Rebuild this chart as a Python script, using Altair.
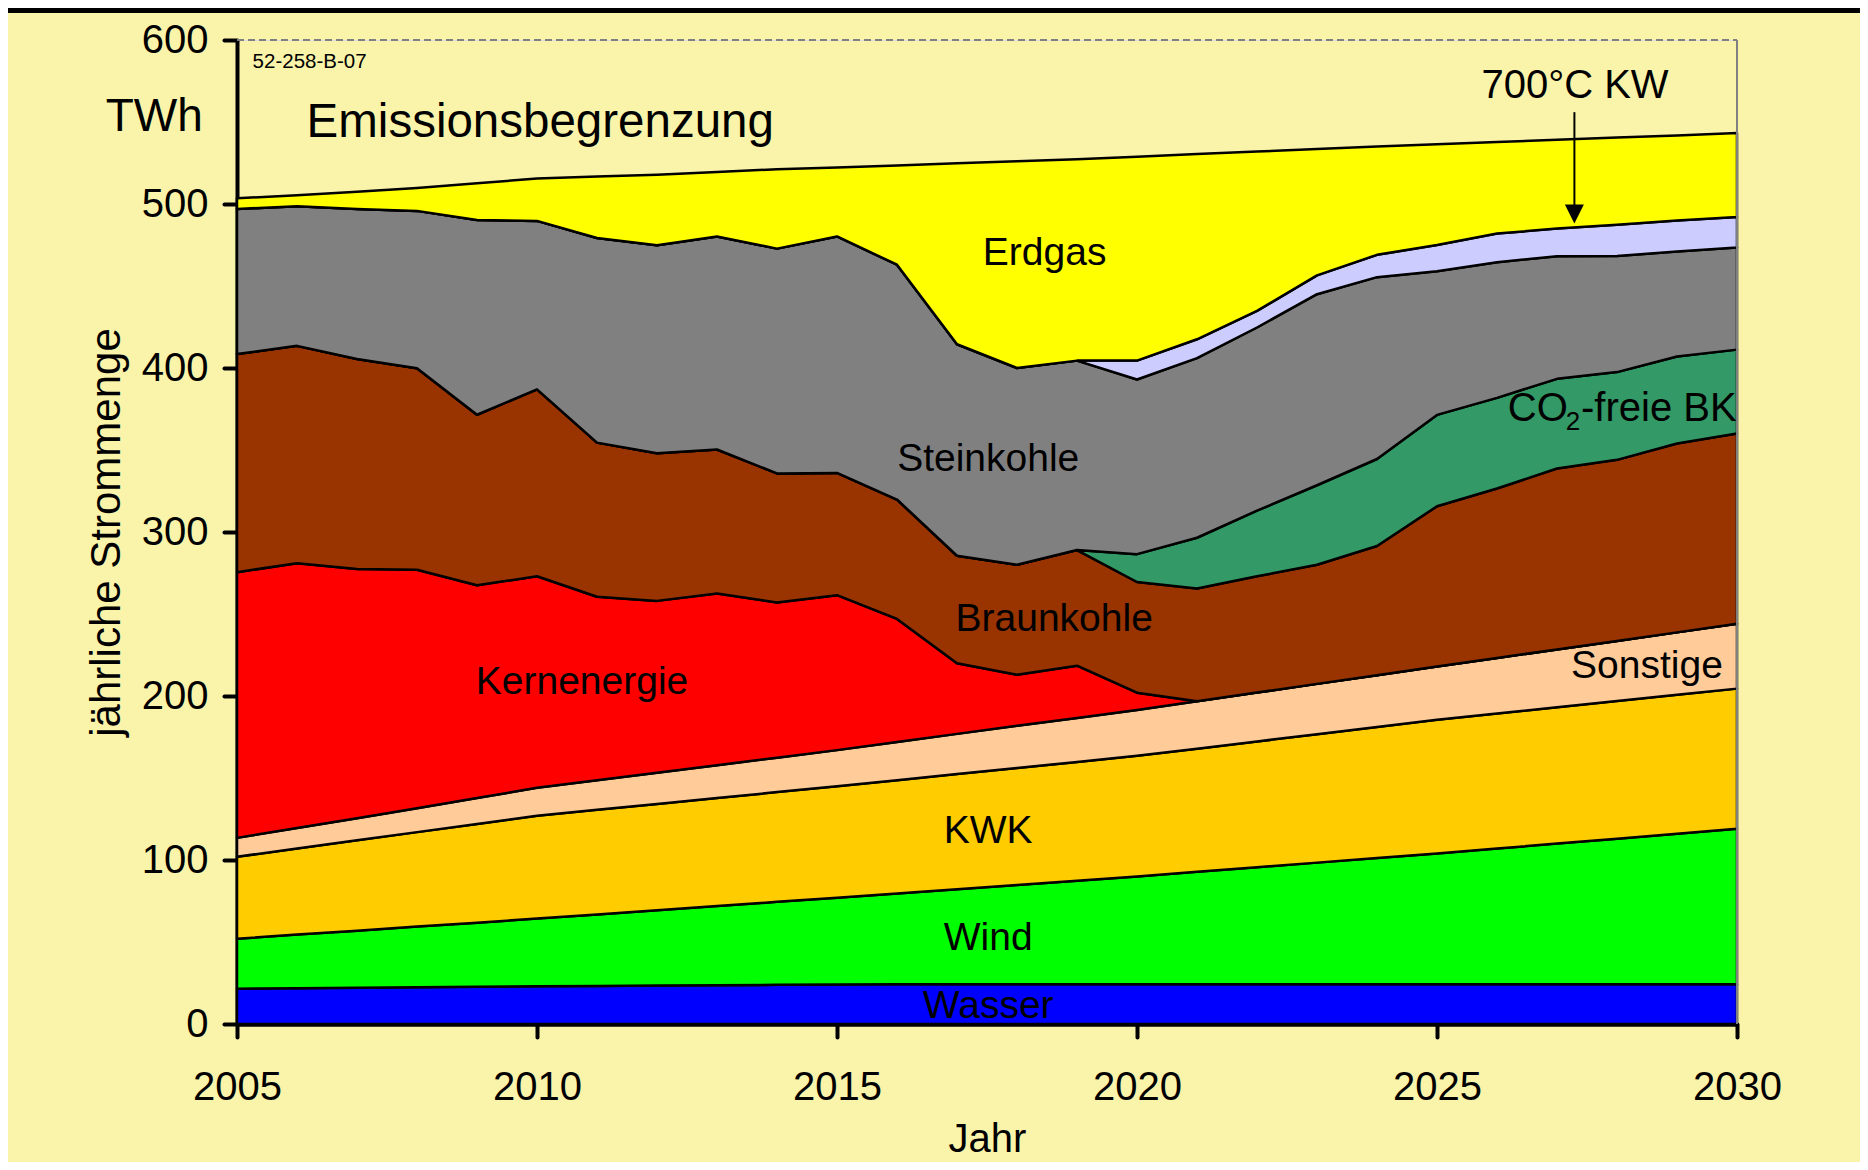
import altair as alt
import pandas as pd

# ---------------- data (TWh per year, per source) ----------------
years = list(range(2005, 2031))

series = ["Wasser", "Wind", "KWK", "Sonstige", "Kernenergie", "Braunkohle",
          "CO2-freie BK", "Steinkohle", "700°C KW", "Erdgas"]
colors = ["#0000FF", "#00FF00", "#FFCC00", "#FFCC99", "#FF0000", "#993300",
          "#339966", "#808080", "#CCCCFF", "#FFFF00"]

wasser = [21.5, 21.8, 22.1, 22.4, 22.7, 23.0, 23.2, 23.4, 23.7, 23.9, 24.1, 24.2, 24.2,
          24.2, 24.2, 24.2, 24.2, 24.2, 24.2, 24.2, 24.2, 24.2, 24.2, 24.2, 24.2, 24.2]
wind = [30.5, 32.7, 34.8, 37.0, 39.1, 41.3, 43.6, 46.0, 48.2, 50.6, 52.9, 55.4, 58.0,
        60.6, 63.2, 65.8, 68.6, 71.4, 74.2, 77.0, 79.8, 82.8, 85.8, 88.8, 91.8, 94.8]
kwk = [50.0, 52.5, 55.1, 57.6, 60.2, 62.7, 63.8, 64.8, 65.9, 66.9, 68.0, 69.1, 70.2,
       71.3, 72.4, 73.5, 75.1, 76.7, 78.3, 79.9, 81.5, 82.3, 83.1, 83.9, 84.7, 85.5]
sonstige = [11.5, 12.5, 13.5, 14.6, 15.8, 17.0, 18.0, 19.0, 20.0, 21.0, 22.0, 23.3, 24.5,
            25.7, 26.8, 28.0, 28.9, 29.8, 30.7, 31.6, 32.5, 33.9, 35.3, 36.7, 38.1, 39.5]
kernenergie = [162.0, 161.5, 152.0, 145.4, 129.7, 129.0, 111.9, 104.8, 104.7, 94.6, 94.5,
               75.0, 43.1, 31.2, 31.9, 10.5, 0, 0, 0, 0, 0, 0, 0, 0, 0, 0]
braunkohle = [133.0, 132.5, 128.0, 122.8, 104.0, 114.0, 94.0, 90.0, 87.8, 78.7, 74.5, 72.8,
              65.5, 67.0, 70.5, 67.5, 68.7, 70.9, 72.6, 78.8, 97.7, 103.3, 110.3, 110.4,
              115.2, 116.0]
co2_frei = [0, 0, 0, 0, 0, 0, 0, 0, 0, 0, 0, 0, 0, 0, 0,
            17.0, 31.0, 40.0, 48.5, 53.0, 55.7, 55.3, 54.7, 53.5, 53.0, 51.2]
steinkohle = [88.5, 85.1, 91.5, 96.0, 118.7, 102.7, 124.8, 126.8, 129.9, 137.1, 144.2,
              143.2, 129.0, 120.0, 115.5, 106.5, 109.5, 111.7, 116.5, 110.9, 87.6, 82.7,
              74.8, 70.8, 64.0, 62.3]
kw700 = [0, 0, 0, 0, 0, 0, 0, 0, 0, 0, 0, 0, 0, 0, 0,
         11.5, 11.5, 10.1, 11.5, 13.6, 16.0, 17.5, 16.8, 19.0, 19.0, 18.5]
erdgas = [6.5, 6.7, 10.5, 14.0, 22.4, 25.9, 37.5, 43.1, 39.3, 48.4, 42.1, 60.5, 110.3,
          126.0, 122.8, 124.3, 113.0, 97.2, 77.0, 66.0, 61.5, 55.8, 54.2, 53.2, 51.8, 51.3]

values = [wasser, wind, kwk, sonstige, kernenergie, braunkohle, co2_frei,
          steinkohle, kw700, erdgas]

x_ticks = [2005, 2010, 2015, 2020, 2025, 2030]
y_ticks = [0, 100, 200, 300, 400, 500, 600]

rows = []
for i, (name, vals) in enumerate(zip(series, values)):
    for yr, v in zip(years, vals):
        rows.append({"year": yr, "value": v, "series": name, "idx": i})
df = pd.DataFrame(rows)

FONT = "Liberation Sans"
x_scale = alt.Scale(domain=[2005, 2030], nice=False, zero=False)
y_scale = alt.Scale(domain=[0, 600], nice=False, zero=True)

area = alt.Chart(df).mark_area(
    stroke="black", strokeWidth=2.5, strokeJoin="round", fillOpacity=1, interpolate="linear"
).encode(
    x=alt.X("year:Q", scale=x_scale,
            axis=alt.Axis(values=x_ticks, format="d", title="Jahr", grid=False,
                          labelFontSize=40, labelPadding=30, labelFlush=False,
                          labelColor="black", labelFont=FONT,
                          tickSize=13, tickWidth=4, tickColor="black", tickCap="round",
                          domainColor="black", domainWidth=4.5,
                          titleFontSize=40, titleFontWeight="normal", titleFont=FONT,
                          titleColor="black", titleX=750, titleY=127,
                          titleBaseline="alphabetic", titleAlign="center")),
    y=alt.Y("value:Q", stack="zero", scale=y_scale,
            axis=alt.Axis(values=y_ticks, title="jährliche Strommenge", grid=False,
                          labelFontSize=40, labelPadding=16, labelFlush=False,
                          labelColor="black", labelFont=FONT,
                          tickSize=13, tickWidth=4, tickColor="black", tickCap="round",
                          domainColor="black", domainWidth=4,
                          titleFontSize=42, titleFontWeight="normal", titleFont=FONT,
                          titleColor="black", titleAngle=270, titleX=-118, titleY=492,
                          titleBaseline="alphabetic", titleAlign="center")),
    fill=alt.Fill("series:N", scale=alt.Scale(domain=series, range=colors), legend=None),
    order=alt.Order("idx:Q", sort="ascending"),
)

# plot-area frame: dashed top, thin right border
frame_top = alt.Chart(pd.DataFrame({"x": [2005], "x2": [2030], "y": [600]})).mark_rule(
    color="#808080", strokeWidth=2, strokeDash=[7, 4]
).encode(x=alt.X("x:Q", scale=x_scale), x2="x2:Q", y=alt.Y("y:Q", scale=y_scale))
frame_right = alt.Chart(pd.DataFrame({"x": [2030], "y": [0], "y2": [600]})).mark_rule(
    color="#808080", strokeWidth=2
).encode(x=alt.X("x:Q", scale=x_scale), y=alt.Y("y:Q", scale=y_scale), y2="y2:Q")

# top black bar of the slide
top_bar = alt.Chart(pd.DataFrame({"a": [0]})).mark_rule(color="black", strokeWidth=5).encode(
    x=alt.value(-229), x2=alt.value(1623), y=alt.value(-29.5)
)

# area labels
lab_text = ["Erdgas", "Steinkohle", "Braunkohle", "Kernenergie", "Sonstige",
            "KWK", "Wind", "Wasser"]
lab_x = [2018.46, 2017.52, 2018.62, 2010.75, 2028.5, 2017.52, 2017.52, 2017.52]
lab_y = [470.0, 344.8, 247.0, 208.5, 218.0, 117.7, 52.3, 11.0]
labels = alt.Chart(pd.DataFrame({"t": lab_text, "x": lab_x, "y": lab_y})).mark_text(
    fontSize=39, font=FONT, color="black", align="center", baseline="middle"
).encode(x=alt.X("x:Q", scale=x_scale), y=alt.Y("y:Q", scale=y_scale), text="t:N")

def txt(t, x, y, size, align="left", baseline="alphabetic"):
    return alt.Chart(pd.DataFrame({"t": [t], "x": [x], "y": [y]})).mark_text(
        fontSize=size, font=FONT, color="black", align=align, baseline=baseline
    ).encode(x=alt.X("x:Q", scale=x_scale), y=alt.Y("y:Q", scale=y_scale), text="t:N")

t_co = txt("CO", 2026.18, 367.4, 40)
t_2 = txt("2", 2027.145, 362.0, 26)
t_frei = txt("-freie BK", 2027.40, 367.4, 40)
t_emis = txt("Emissionsbegrenzung", 2006.16, 540.6, 47.5)
t_twh = txt("TWh", 2004.43, 544.3, 46, align="right")
t_code = txt("52-258-B-07", 2005.26, 582.9, 20.5)
t_700 = txt("700°C KW", 2027.3, 564.6, 40, align="center")

# arrow to the 700°C KW band
arrow_line = alt.Chart(pd.DataFrame({"x": [2027.29], "y": [556.0], "y2": [497.0]})).mark_rule(
    color="black", strokeWidth=2
).encode(x=alt.X("x:Q", scale=x_scale), y=alt.Y("y:Q", scale=y_scale), y2="y2:Q")
arrow_head = alt.Chart(pd.DataFrame({"x": [2027.29], "y": [493.9]})).mark_point(
    shape="M-1,-1L1,-1L0,1Z", size=361, filled=True, color="black", opacity=1
).encode(x=alt.X("x:Q", scale=x_scale), y=alt.Y("y:Q", scale=y_scale))

chart = alt.layer(
    area, frame_top, frame_right, labels, t_co, t_2, t_frei, t_emis, t_twh, t_code, t_700,
    arrow_line, arrow_head, top_bar
).properties(
    width=1500, height=984,
    padding={"left": 229, "top": 32, "right": 123, "bottom": 138},
    autosize=alt.AutoSizeParams(type="none"),
    background="#FAF4AA",
).configure_view(
    fill="#FFFFCC", stroke=None
).configure(font=FONT)

chart.save("out.html", embed_options={"renderer": "svg", "actions": False})
